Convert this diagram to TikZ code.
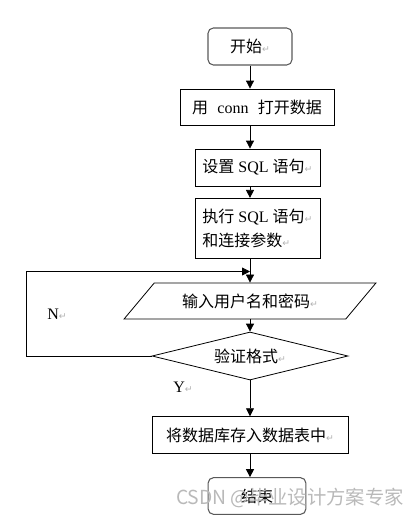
\documentclass[tikz,border=0pt]{standalone}
\usepackage{fontspec}
\setmainfont{Liberation Serif}
\newfontfamily\zhfont{Noto Sans CJK SC}
\newfontfamily\symfont{DejaVu Sans}
\usetikzlibrary{arrows.meta}
\usetikzlibrary{shapes}
\newcommand{\zh}[1]{{\zhfont #1}}
\newcommand{\ret}{{\symfont\fontsize{7}{7}\selectfont\textcolor{gray!60}{↵}}}

\begin{document}
\begin{tikzpicture}[x=0.75pt,y=-0.75pt,>={Triangle[length=6pt,width=6pt]},every edge/.style={draw=black,semithick},font=\fontsize{12}{14}\selectfont]
        \useasboundingbox (0,0) rectangle (420,521);

        \node[draw=black!65, thick, rectangle, rounded corners=4pt, minimum width=63pt, minimum height=27.75pt, inner sep=0] (start) at (250, 46.5) {\zh{开始}\ret};

        \node[draw, semithick, rectangle, minimum width=115.5pt, minimum height=27pt, inner sep=0] (open) at (257, 107) {\zh{用}\hspace{7pt}conn\hspace{7pt}\zh{打开数据}};

        \node[draw, semithick, rectangle, minimum width=93.75pt, minimum height=27.75pt, inner sep=0] (setsql) at (257.5, 167.5) {\zh{设置} SQL \zh{语句}\ret};

        \node[draw, semithick, rectangle, minimum width=93.75pt, minimum height=45pt, inner sep=0, align=left, font=\fontsize{12}{18}\selectfont] (runsql) at (257.5, 228.3) {\zh{执行} SQL \zh{语句}\ret\\\zh{和连接参数}\ret};

        \node[draw, semithick, trapezium, trapezium left angle=35, trapezium right angle=145, trapezium stretches=true, minimum width=189pt, minimum height=27pt, inner sep=0] (input) at (250, 301) {\zh{输入用户名和密码}\ret};

        \node[draw, semithick, diamond, aspect=4, minimum width=147pt, minimum height=36pt, inner sep=0] (check) at (250, 356) {\zh{验证格式}\ret};

        \node[draw, semithick, rectangle, minimum width=147pt, minimum height=27.5pt, inner sep=0] (save) at (250, 435) {\zh{将数据库存入数据表中}\ret};

        \node[draw=black!65, thick, rectangle, rounded corners=4pt, minimum width=73.3pt, minimum height=27.5pt, inner sep=0] (end) at (257, 496) {\zh{结束}};

        \node (no) at (57, 314) {N\ret};

        \node (yes) at (183, 387) {Y\ret};

        \coordinate (back) at (26, 271.5);
        \coordinate (join) at (250, 271.5);

        \path [->](start) edge (start |- open.north);
        \path [->](open.south -| start) edge (setsql.north -| start);
        \path [->](setsql.south -| start) edge (runsql.north -| start);
        \path [->](runsql.south -| start) edge (start |- input.north);
        \path [->](input.south -| start) edge (check.north);
        \path [->](check.south) edge (save.north);
        \path [->](save.south) edge (save.south |- end.north);

        \draw [->, semithick](check.west) -| (back) -- (join);

        \node[text=gray!55, font=\zhfont\fontsize{14.5}{14.5}\selectfont] (mark) at (290, 498) {CSDN @毕业设计方案专家};

    \end{tikzpicture}
\end{document}
